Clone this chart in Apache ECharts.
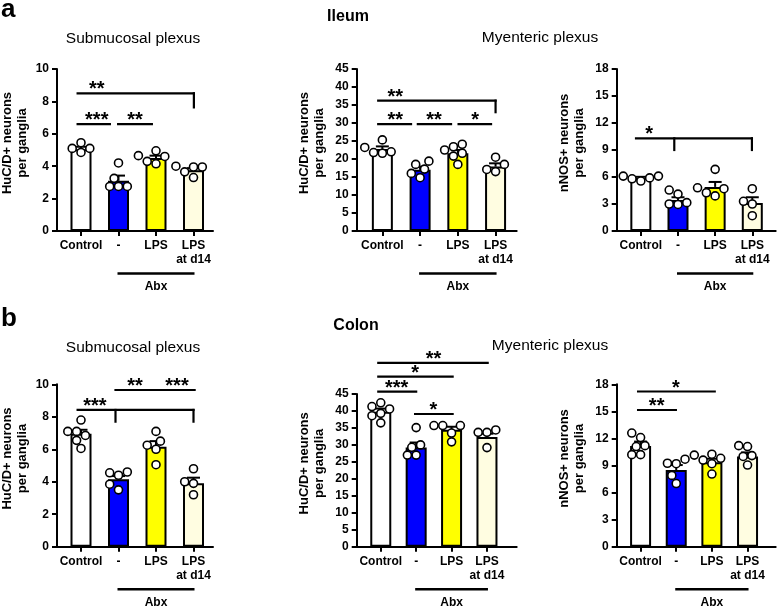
<!DOCTYPE html>
<html><head><meta charset="utf-8">
<script src="https://cdn.jsdelivr.net/npm/echarts@6/dist/echarts.min.js"></script>
<style>html,body{margin:0;padding:0;background:#fff}#c{width:778px;height:607px}</style>
</head><body><div id="c"></div>
<script>
// ---------- data ----------
const categories = ['Control', '-', 'LPS', 'LPS\nat d14'];
const groupColors = ['#ffffff', '#0000ff', '#ffff00', '#fffde1'];
const treatmentLabel = 'Abx';
const treatmentGroups = [1, 3];
const huName = 'HuC/D+ neurons\nper ganglia';
const nosName = 'nNOS+ neurons\nper ganglia';

// a — Ileum, submucosal plexus (HuC/D+)
const ileumSubMean = [5.05, 3.1, 4.5, 3.75];
const ileumSubSem = [0.15, 0.32, 0.15, 0.13];
const ileumSubPoints = [[4.85, 5.1, 5.1, 5.45], [4.2, 3.25, 2.75, 2.75, 2.75], [4.95, 4.65, 4.6, 4.3, 4.15], [4.0, 3.95, 3.95, 3.65, 3.3]];
const ileumSubLines = [[-0.09, 8.5, 3.01, 8.5], [3.01, 8.5, 3.01, 7.63], [-0.09, 6.6, 0.77, 6.6], [0.99, 6.6, 1.89, 6.6]];
const ileumSubStars = [[0.42, 8.5, '**'], [0.42, 6.6, '***'], [1.44, 6.6, '**']];
const ileumSubTicks = [0, 2, 4, 6, 8, 10];

// a — Ileum, myenteric plexus (HuC/D+)
const ileumMyMean = [22.8, 17.0, 21.6, 17.9];
const ileumMySem = [0.7, 0.9, 0.9, 0.9];
const ileumMyPoints = [[25.3, 23.2, 22.0, 21.6, 21.8], [19.4, 18.5, 17.2, 16.0, 14.8], [24.1, 23.4, 22.5, 20.8, 18.5, 21.6], [20.5, 18.5, 17.1, 16.5]];
const ileumMyLines = [[-0.11, 36.2, 3.0, 36.2], [3.0, 36.2, 3.0, 33.0], [-0.11, 29.7, 0.76, 29.7], [0.94, 29.7, 1.82, 29.7], [2.02, 29.7, 2.88, 29.7]];
const ileumMyStars = [[0.34, 36.2, '**'], [0.34, 29.7, '**'], [1.37, 29.7, '**'], [2.46, 29.7, '*']];
const ileumMyTicks = [0, 5, 10, 15, 20, 25, 30, 35, 40, 45];

// a — Ileum, myenteric plexus (nNOS+)
const ileumNosMean = [5.9, 3.45, 4.9, 3.1];
const ileumNosSem = [0.12, 0.3, 0.55, 0.65];
const ileumNosPoints = [[6.1, 6.1, 5.9, 5.8, 5.55], [4.55, 4.1, 3.15, 3.0, 2.95], [6.85, 4.8, 4.7, 4.25, 3.9], [4.7, 3.3, 3.0, 1.7]];
const ileumNosLines = [[-0.13, 10.3, 2.99, 10.3], [0.9, 10.3, 0.9, 9.0], [2.99, 10.3, 2.99, 9.0]];
const ileumNosStars = [[0.22, 10.3, '*']];
const ileumNosTicks = [0, 3, 6, 9, 12, 15, 18];

// b — Colon, submucosal plexus (HuC/D+)
const colonSubMean = [6.95, 4.15, 6.15, 3.9];
const colonSubSem = [0.25, 0.2, 0.35, 0.35];
const colonSubPoints = [[7.8, 7.1, 7.1, 6.85, 6.55, 6.05], [4.6, 4.55, 4.4, 3.85, 3.5], [7.1, 6.5, 6.25, 6.0, 5.05], [4.8, 4.0, 3.9, 3.2]];
const colonSubLines = [[-0.09, 8.42, 3.0, 8.42], [0.92, 8.42, 0.92, 7.7], [3.0, 8.42, 3.0, 7.7], [0.92, 9.65, 3.03, 9.65]];
const colonSubStars = [[0.37, 8.42, '***'], [1.44, 9.65, '**'], [2.56, 9.65, '***']];
const colonSubTicks = [0, 2, 4, 6, 8, 10];

// b — Colon, myenteric plexus (HuC/D+)
const colonMyMean = [39.8, 29.2, 34.5, 32.3];
const colonMySem = [0.9, 1.5, 0.85, 1.0];
const colonMyPoints = [[42.4, 41.3, 40.6, 39.3, 38.6, 36.5], [35.1, 30.0, 29.3, 27.0, 27.0], [35.7, 35.7, 35.7, 33.5, 30.9], [34.4, 33.7, 33.7, 29.2]];
const colonMyLines = [[-0.07, 54.2, 3.02, 54.2], [-0.07, 50.1, 2.03, 50.1], [-0.07, 45.7, 1.0, 45.7], [0.97, 39.1, 2.03, 39.1]];
const colonMyStars = [[1.49, 54.2, '**'], [0.97, 50.1, '*'], [0.45, 45.7, '***'], [1.49, 39.1, '*']];
const colonMyTicks = [0, 5, 10, 15, 20, 25, 30, 35, 40, 45];

// b — Colon, myenteric plexus (nNOS+)
const colonNosMean = [11.15, 8.5, 9.35, 10.0];
const colonNosSem = [0.5, 0.55, 0.4, 0.45];
const colonNosPoints = [[12.6, 12.1, 11.2, 11.1, 10.2, 10.2], [9.7, 9.25, 9.2, 7.9, 7.0], [10.25, 10.15, 9.8, 9.6, 9.2, 8.05], [11.2, 11.1, 10.1, 10.0, 9.05]];
const colonNosLines = [[-0.07, 17.2, 2.08, 17.2], [-0.07, 15.15, 0.99, 15.15]];
const colonNosStars = [[0.99, 17.2, '*'], [0.45, 15.15, '**']];
const colonNosTicks = [0, 3, 6, 9, 12, 15, 18];

// ---------- layout ----------
const FONT = '"Liberation Sans", Arial, sans-serif';
const panels = [
  {grid: {left: 57, top: 69, width: 156, height: 162}, xMin: -0.64, xMax: 3.52, yMax: 10, interval: 2, name: huName, gap: 27,
   mean: ileumSubMean, sem: ileumSubSem, pts: ileumSubPoints, lines: ileumSubLines, stars: ileumSubStars, ticks: ileumSubTicks},
  {grid: {left: 356.7, top: 69, width: 160, height: 162}, xMin: -0.68, xMax: 3.56, yMax: 45, interval: 5, name: huName, gap: 30,
   mean: ileumMyMean, sem: ileumMySem, pts: ileumMyPoints, lines: ileumMyLines, stars: ileumMyStars, ticks: ileumMyTicks},
  {grid: {left: 616.7, top: 69, width: 159, height: 162}, xMin: -0.65, xMax: 3.63, yMax: 18, interval: 3, name: nosName, gap: 30,
   mean: ileumNosMean, sem: ileumNosSem, pts: ileumNosPoints, lines: ileumNosLines, stars: ileumNosStars, ticks: ileumNosTicks},
  {grid: {left: 57, top: 384.3, width: 156, height: 162.4}, xMin: -0.64, xMax: 3.52, yMax: 10, interval: 2, name: huName, gap: 27,
   mean: colonSubMean, sem: colonSubSem, pts: colonSubPoints, lines: colonSubLines, stars: colonSubStars, ticks: colonSubTicks},
  {grid: {left: 356.7, top: 394, width: 160, height: 152.7}, xMin: -0.68, xMax: 3.84, yMax: 45, interval: 5, name: huName, gap: 30,
   mean: colonMyMean, sem: colonMySem, pts: colonMyPoints, lines: colonMyLines, stars: colonMyStars, ticks: colonMyTicks},
  {grid: {left: 616.7, top: 384.3, width: 159, height: 162.4}, xMin: -0.67, xMax: 3.79, yMax: 18, interval: 3, name: nosName, gap: 30,
   mean: colonNosMean, sem: colonNosSem, pts: colonNosPoints, lines: colonNosLines, stars: colonNosStars, ticks: colonNosTicks}
];

// beeswarm offsets (pixels -> x units)
function swarm(values, pyUnit, pxUnit) {
  const D = 8.8;
  const order = values.map((v, i) => i).sort((a, b) => values[a] - values[b]);
  const placed = [], offs = new Array(values.length).fill(0);
  const cands = [0];
  for (let k = 1; k < 12; k++) cands.push(-k * D / 2, k * D / 2);
  for (const i of order) {
    const y = values[i] * pyUnit;
    for (const c of cands) {
      if (placed.every(p => Math.hypot(p[0] - c, p[1] - y) >= D - 0.01)) { offs[i] = c; placed.push([c, y]); break; }
    }
  }
  return offs.map(o => o / pxUnit);
}

const grids = [], xAxes = [], yAxes = [], series = [];
const black = '#000';
panels.forEach((p, i) => {
  grids.push(Object.assign({outerBoundsMode: 'none', containLabel: false}, p.grid));
  xAxes.push({
    type: 'value', gridIndex: i, min: p.xMin, max: p.xMax,
    splitLine: {show: false},
    axisLine: {show: true, onZero: false, lineStyle: {color: black, width: 2}},
    axisTick: {show: true, customValues: [0, 1, 2, 3], length: 5, lineStyle: {color: black, width: 2}},
    axisLabel: {show: true, customValues: [0, 1, 2, 3], formatter: v => categories[Math.round(v)],
      color: black, fontWeight: 'bold', fontSize: 12, fontFamily: FONT, lineHeight: 14, margin: 8}
  });
  yAxes.push({
    type: 'value', gridIndex: i, min: 0, max: p.yMax, interval: p.interval,
    splitLine: {show: false},
    axisLine: {show: true, onZero: false, lineStyle: {color: black, width: 2}},
    axisTick: {show: true, length: 5, lineStyle: {color: black, width: 2}},
    axisLabel: {color: black, fontWeight: 'bold', fontSize: 12, fontFamily: FONT, margin: 8},
    name: p.name, nameLocation: 'middle', nameRotate: 90, nameGap: p.gap,
    nameTextStyle: {color: black, fontWeight: 'bold', fontSize: 13, fontFamily: FONT, lineHeight: 15, padding: [0, 0, 0, 14]}
  });
  const pyUnit = p.grid.height / p.yMax;
  const pxUnit = p.grid.width / (p.xMax - p.xMin);
  // bars
  series.push({
    type: 'bar', xAxisIndex: i, yAxisIndex: i, barWidth: 21, z: 2,
    itemStyle: {borderColor: black, borderWidth: 2},
    data: p.mean.map((m, k) => ({value: [k, m], itemStyle: {color: groupColors[k]}})),
    silent: true, animation: false
  });
  // error bars (upper SEM)
  series.push({
    type: 'custom', xAxisIndex: i, yAxisIndex: i, z: 3, clip: false, animation: false,
    data: p.mean.map((m, k) => [k, m, p.sem[k]]),
    renderItem: (params, api) => {
      const x = api.value(0), m = api.value(1), s = api.value(2);
      const b = api.coord([x, m]), t = api.coord([x, m + s]);
      return {type: 'group', children: [
        {type: 'line', shape: {x1: b[0], y1: b[1], x2: t[0], y2: t[1]}, style: {stroke: black, lineWidth: 2}},
        {type: 'line', shape: {x1: t[0] - 6.5, y1: t[1], x2: t[0] + 6.5, y2: t[1]}, style: {stroke: black, lineWidth: 2}}
      ]};
    }
  });
  // individual points
  const pts = [];
  p.pts.forEach((vals, k) => {
    const offs = swarm(vals, pyUnit, pxUnit);
    vals.forEach((v, j) => pts.push([k + offs[j], v]));
  });
  series.push({
    type: 'scatter', xAxisIndex: i, yAxisIndex: i, z: 5, symbol: 'circle', symbolSize: 8, animation: false,
    itemStyle: {color: '#fff', borderColor: black, borderWidth: 1.6, opacity: 1},
    data: pts
  });
  // significance lines
  series.push({
    type: 'custom', xAxisIndex: i, yAxisIndex: i, z: 4, clip: false, animation: false,
    data: p.lines,
    renderItem: (params, api) => {
      const a = api.coord([api.value(0), api.value(1)]);
      const b = api.coord([api.value(2), api.value(3)]);
      return {type: 'line', shape: {x1: a[0], y1: a[1], x2: b[0], y2: b[1]}, style: {stroke: black, lineWidth: 2.2, lineCap: 'square'}};
    }
  });
  // significance stars
  const stars = p.stars;
  series.push({
    type: 'custom', xAxisIndex: i, yAxisIndex: i, z: 4, clip: false, animation: false,
    data: stars.map(s => [s[0], s[1]]),
    renderItem: (params, api) => {
      const c = api.coord([api.value(0), api.value(1)]);
      return {type: 'text', x: c[0], y: c[1] - 3.5, style: {text: stars[params.dataIndex][2], font: 'bold 20px ' + FONT, fill: black,
        align: 'center', verticalAlign: 'middle', textAlign: 'center', textVerticalAlign: 'middle'}};
    }
  });
  // treatment bracket under axis
  series.push({
    type: 'custom', xAxisIndex: i, yAxisIndex: i, z: 4, clip: false, animation: false,
    data: [[treatmentGroups[0], 0, treatmentGroups[1]]],
    renderItem: (params, api) => {
      const a = api.coord([api.value(0), 0]), b = api.coord([api.value(2), 0]);
      const y = a[1] + 42.5;
      return {type: 'group', children: [
        {type: 'line', shape: {x1: a[0] - 1, y1: y, x2: b[0] + 1, y2: y}, style: {stroke: black, lineWidth: 2.5}},
        {type: 'text', x: (a[0] + b[0]) / 2, y: y + 13, style: {text: treatmentLabel, font: 'bold 12px ' + FONT, fill: black,
          align: 'center', verticalAlign: 'middle', textAlign: 'center', textVerticalAlign: 'middle'}}
      ]};
    }
  });
});

function txt(t, x, y, font, align) {
  return {type: 'text', x: x, y: y, silent: true,
    style: {text: t, font: font, fill: black, align: align, verticalAlign: 'middle', textAlign: align, textVerticalAlign: 'middle'}};
}
const graphics = [
  txt('a', 1, 9.5, 'bold 26px ' + FONT, 'left'),
  txt('Ileum', 348, 16.2, 'bold 16px ' + FONT, 'center'),
  txt('Submucosal plexus', 133, 38.8, '15.5px ' + FONT, 'center'),
  txt('Myenteric plexus', 540, 37.8, '15.5px ' + FONT, 'center'),
  txt('b', 1, 319, 'bold 26px ' + FONT, 'left'),
  txt('Colon', 356, 325.8, 'bold 16px ' + FONT, 'center'),
  txt('Submucosal plexus', 133, 347.4, '15.5px ' + FONT, 'center'),
  txt('Myenteric plexus', 550, 345.9, '15.5px ' + FONT, 'center')
];

const chart = echarts.init(document.getElementById('c'), null, {renderer: 'canvas'});
chart.setOption({
  animation: false,
  backgroundColor: '#fff',
  textStyle: {fontFamily: FONT},
  grid: grids, xAxis: xAxes, yAxis: yAxes, series: series,
  graphic: graphics
});
</script></body></html>
